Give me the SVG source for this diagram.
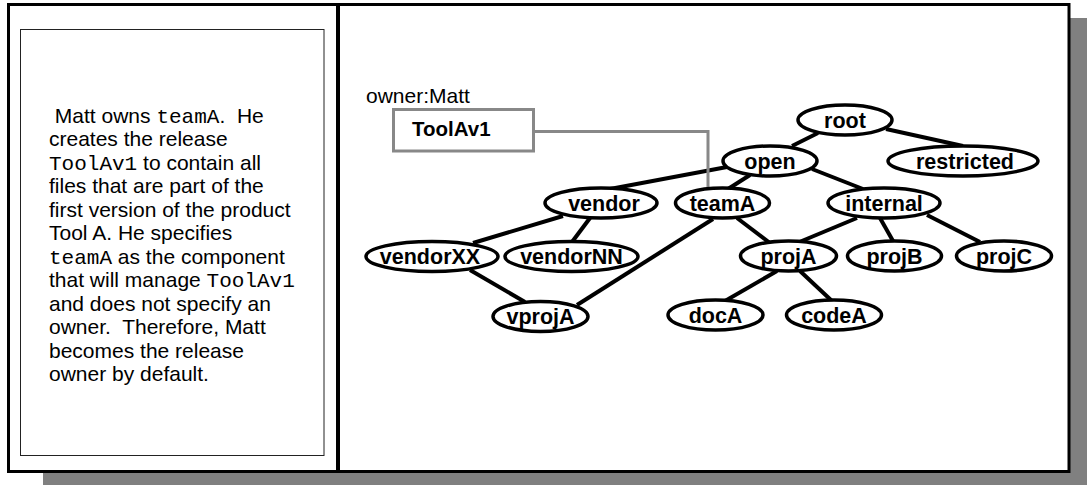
<svg xmlns="http://www.w3.org/2000/svg" width="1087" height="485" viewBox="0 0 1087 485">
  <style>
    .frame { fill: #ffffff; stroke: #000000; stroke-width: 3; }
    .shadow { fill: #808080; stroke: none; }
    .panel { fill: #ffffff; stroke: #222222; stroke-width: 1; }
    .body { font-family: "Liberation Sans", Arial, sans-serif; font-size: 21px; fill: #000000; white-space: pre; }
    .mono { font-family: "Liberation Mono", "Courier New", monospace; font-size: 21px; }
    .node ellipse { fill: #ffffff; stroke: #000000; stroke-width: 3.5; }
    .node text { font-family: "Liberation Sans", Arial, sans-serif; font-size: 21.5px; font-weight: bold; text-anchor: middle; fill: #000000; }
    .edge { stroke: #000000; stroke-width: 4; fill: none; }
    .link { stroke: #888888; stroke-width: 3; fill: none; }
    .release rect { fill: #ffffff; stroke: #888888; stroke-width: 3; }
  </style>

  <!-- page frame with drop shadow -->
  <rect class="shadow" x="43" y="18" width="1044" height="467"/>
  <rect class="frame" x="8.5" y="4.5" width="1060.5" height="467"/>
  <line x1="338" y1="4.5" x2="338" y2="471.5" stroke="#000000" stroke-width="4"/>

  <!-- explanatory note -->
  <g id="note">
    <rect class="panel" x="20.5" y="29.5" width="303.5" height="426"/>
    <text class="body" x="49" y="122.5"> Matt owns <tspan class="mono">teamA</tspan>.  He</text>
    <text class="body" x="49" y="146">creates the release</text>
    <text class="body" x="49" y="169.5"><tspan class="mono">ToolAv1</tspan> to contain all</text>
    <text class="body" x="49" y="193">files that are part of the</text>
    <text class="body" x="49" y="216.5">first version of the product</text>
    <text class="body" x="49" y="240">Tool A. He specifies</text>
    <text class="body" x="49" y="263.5"><tspan class="mono">teamA</tspan> as the component</text>
    <text class="body" x="49" y="287">that will manage <tspan class="mono">ToolAv1</tspan></text>
    <text class="body" x="49" y="310.5">and does not specify an</text>
    <text class="body" x="49" y="334">owner.  Therefore, Matt</text>
    <text class="body" x="49" y="357.5">becomes the release</text>
    <text class="body" x="49" y="381">owner by default.</text>
  </g>

  <!-- tree edges and release link -->
  <g id="connectors">
    <line class="edge" x1="818" y1="133" x2="792" y2="146"/>
    <line class="edge" x1="886" y1="129" x2="963" y2="146"/>
    <line class="edge" x1="727" y1="167" x2="610" y2="189"/>
    <line class="edge" x1="750" y1="175" x2="728" y2="189"/>
    <line class="edge" x1="812" y1="169" x2="863" y2="189"/>
    <line class="edge" x1="563" y1="216" x2="473" y2="243"/>
    <line class="edge" x1="590" y1="218" x2="572" y2="242"/>
    <line class="edge" x1="713" y1="219" x2="577" y2="305"/>
    <line class="edge" x1="737" y1="218" x2="770" y2="243"/>
    <line class="edge" x1="470" y1="270" x2="525" y2="302"/>
    <line class="edge" x1="857" y1="218" x2="797" y2="243"/>
    <line class="edge" x1="880" y1="218" x2="893" y2="241"/>
    <line class="edge" x1="927" y1="215" x2="980" y2="242"/>
    <line class="edge" x1="777" y1="271" x2="725" y2="301"/>
    <line class="edge" x1="800" y1="271" x2="832" y2="301"/>
    <polyline class="link" points="534,131.5 708,131.5 708,190"/>
  </g>

  <!-- release box -->
  <g id="release" class="release">
    <text x="366" y="103" font-family="Liberation Sans, Arial, sans-serif" font-size="21px">owner:Matt</text>
    <rect x="393.5" y="109.5" width="140" height="41.5"/>
    <text x="412" y="136" font-family="Liberation Sans, Arial, sans-serif" font-size="20.5px" font-weight="bold">ToolAv1</text>
  </g>

  <!-- component tree nodes -->
  <g id="node-root" class="node"><ellipse cx="845" cy="120" rx="47" ry="15"/><text x="845" y="127.5">root</text></g>
  <g id="node-open" class="node"><ellipse cx="770" cy="161" rx="47" ry="15"/><text x="770" y="168.5">open</text></g>
  <g id="node-restricted" class="node"><ellipse cx="963" cy="161" rx="75" ry="15"/><text x="965" y="168.5">restricted</text></g>
  <g id="node-vendor" class="node"><ellipse cx="601" cy="203" rx="56" ry="15"/><text x="604" y="210.5">vendor</text></g>
  <g id="node-teamA" class="node"><ellipse cx="722.5" cy="203" rx="47" ry="15"/><text x="722.5" y="210.5">teamA</text></g>
  <g id="node-internal" class="node"><ellipse cx="884" cy="203" rx="56" ry="15"/><text x="884" y="210.5">internal</text></g>
  <g id="node-vendorXX" class="node"><ellipse cx="432" cy="256.5" rx="66" ry="15"/><text x="430" y="264">vendorXX</text></g>
  <g id="node-vendorNN" class="node"><ellipse cx="571.5" cy="256.5" rx="66.5" ry="15"/><text x="571.5" y="264">vendorNN</text></g>
  <g id="node-projA" class="node"><ellipse cx="788.5" cy="256" rx="48" ry="15"/><text x="788.5" y="263.5">projA</text></g>
  <g id="node-projB" class="node"><ellipse cx="894.5" cy="256" rx="47" ry="15"/><text x="894.5" y="263.5">projB</text></g>
  <g id="node-projC" class="node"><ellipse cx="1004" cy="256" rx="47.5" ry="15"/><text x="1004" y="263.5">projC</text></g>
  <g id="node-vprojA" class="node"><ellipse cx="540.5" cy="316.5" rx="47.5" ry="15"/><text x="540.5" y="324">vprojA</text></g>
  <g id="node-docA" class="node"><ellipse cx="715.5" cy="315" rx="47.5" ry="15"/><text x="715.5" y="322.5">docA</text></g>
  <g id="node-codeA" class="node"><ellipse cx="834" cy="315" rx="47.5" ry="15"/><text x="834" y="322.5">codeA</text></g>
</svg>
